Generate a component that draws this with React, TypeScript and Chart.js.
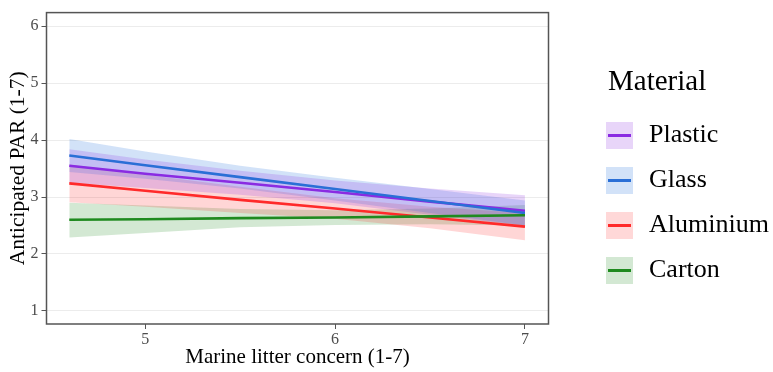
import React, { useEffect, useRef } from "react";
import { Chart, registerables } from "chart.js";

Chart.register(...registerables);

// ---- data ----
const materials = ["Plastic", "Glass", "Aluminium", "Carton"];
const concern = [4.6, 5.0, 5.5, 6.0, 6.5, 7.0];

const plasticFit = [3.55, 3.41, 3.25, 3.09, 2.92, 2.76];
const plasticLow = [3.25, 3.16, 3.04, 2.89, 2.69, 2.49];
const plasticHigh = [3.84, 3.66, 3.46, 3.29, 3.15, 3.03];

const glassFit = [3.73, 3.56, 3.35, 3.14, 2.93, 2.72];
const glassLow = [3.44, 3.32, 3.15, 2.94, 2.72, 2.5];
const glassHigh = [4.02, 3.8, 3.55, 3.34, 3.14, 2.94];

const aluminiumFit = [3.24, 3.11, 2.95, 2.8, 2.64, 2.48];
const aluminiumLow = [2.91, 2.83, 2.72, 2.62, 2.45, 2.24];
const aluminiumHigh = [3.57, 3.39, 3.18, 2.98, 2.83, 2.72];

const cartonFit = [2.6, 2.61, 2.63, 2.64, 2.66, 2.68];
const cartonLow = [2.29, 2.37, 2.47, 2.51, 2.52, 2.5];
const cartonHigh = [2.9, 2.85, 2.79, 2.77, 2.8, 2.86];

const xTicks = [5, 6, 7];
const yTicks = [1, 2, 3, 4, 5, 6];
const xTitle = "Marine litter concern (1-7)";
const yTitle = "Anticipated PAR (1-7)";
const legendTitle = "Material";

// ---- styles ----
const FONT = '"Liberation Serif", "Times New Roman", serif';
const lineColors = ["#8a2be2", "#2a6fd6", "#ff2a2a", "#1f8a1f"];
const bandColors = [
  "rgba(138,43,226,0.2)",
  "rgba(30,110,220,0.2)",
  "rgba(255,30,30,0.18)",
  "rgba(34,139,34,0.2)",
];
const legendBoxColors = ["#e8d5f9", "#d2e2f8", "#ffd8d8", "#d3e8d3"];

const series = [
  { fit: plasticFit, low: plasticLow, high: plasticHigh },
  { fit: glassFit, low: glassLow, high: glassHigh },
  { fit: aluminiumFit, low: aluminiumLow, high: aluminiumHigh },
  { fit: cartonFit, low: cartonLow, high: cartonHigh },
];

const pts = (ys: number[]) => concern.map((x, i) => ({ x, y: ys[i] }));

const panelBorder = {
  id: "panelBorder",
  afterDraw(chart: any) {
    const { ctx, chartArea: a } = chart;
    ctx.save();
    ctx.strokeStyle = "#555555";
    ctx.lineWidth = 1.5;
    ctx.strokeRect(a.left, a.top, a.right - a.left, a.bottom - a.top);
    ctx.restore();
  },
};

export default function App() {
  const ref = useRef<HTMLCanvasElement | null>(null);

  useEffect(() => {
    if (!ref.current) return;
    const datasets: any[] = [];
    series.forEach((s, i) => {
      datasets.push({
        label: materials[i] + " high",
        data: pts(s.high),
        borderWidth: 0,
        pointRadius: 0,
        fill: false,
        order: 10,
      });
      datasets.push({
        label: materials[i] + " low",
        data: pts(s.low),
        borderWidth: 0,
        pointRadius: 0,
        backgroundColor: bandColors[i],
        fill: "-1",
        order: 10,
      });
    });
    series.forEach((s, i) => {
      datasets.push({
        label: materials[i],
        data: pts(s.fit),
        borderColor: lineColors[i],
        borderWidth: 2.6,
        pointRadius: 0,
        fill: false,
        order: 4 - i,
      });
    });

    const chart = new Chart(ref.current, {
      type: "line",
      data: { datasets },
      plugins: [panelBorder],
      options: {
        animation: false,
        responsive: false,
        devicePixelRatio: 1,
        layout: { padding: { top: 10.5, right: 224.5, left: 0, bottom: 0 } },
        plugins: { legend: { display: false }, tooltip: { enabled: false } },
        scales: {
          x: {
            type: "linear",
            min: 4.48,
            max: 7.124,
            afterBuildTicks: (s: any) => {
              s.ticks = xTicks.map((v) => ({ value: v }));
            },
            afterFit: (s: any) => {
              s.height = 48;
            },
            grid: {
              drawOnChartArea: false,
              drawTicks: true,
              tickLength: 5,
              tickColor: "#555555",
              tickWidth: 1,
            },
            border: { display: false },
            ticks: {
              color: "#4d4d4d",
              font: { family: FONT, size: 16 },
              padding: 1,
              maxRotation: 0,
            },
            title: {
              display: true,
              text: xTitle,
              color: "#000",
              font: { family: FONT, size: 21, lineHeight: 1 },
              padding: { top: 0, bottom: 4 },
            },
          },
          y: {
            type: "linear",
            min: 0.77,
            max: 6.24,
            afterBuildTicks: (s: any) => {
              s.ticks = yTicks.map((v) => ({ value: v }));
            },
            afterFit: (s: any) => {
              s.width = 46.5;
            },
            grid: {
              color: "#ececec",
              lineWidth: 1,
              drawTicks: true,
              tickLength: 5,
              tickColor: "#555555",
              tickWidth: 1,
            },
            border: { display: false },
            ticks: {
              color: "#4d4d4d",
              font: { family: FONT, size: 16 },
              padding: 3,
            },
            title: {
              display: true,
              text: yTitle,
              color: "#000",
              font: { family: FONT, size: 21.5, lineHeight: 1 },
              padding: { top: 8, bottom: 0 },
            },
          },
        },
      },
    } as any);
    return () => chart.destroy();
  }, []);

  const keyTops = [122, 167, 212, 257];

  return (
    <div
      style={{
        position: "absolute",
        left: 0,
        top: 0,
        width: 773,
        height: 372,
        background: "#fff",
      }}
    >
      <canvas ref={ref} width={773} height={372} style={{ display: "block" }} />
      <div
        style={{
          position: "absolute",
          left: 608,
          top: 65.7,
          fontFamily: FONT,
          fontSize: 29,
          lineHeight: "29px",
          color: "#000",
          whiteSpace: "nowrap",
        }}
      >
        {legendTitle}
      </div>
      {materials.map((m, i) => (
        <React.Fragment key={m}>
          <div
            style={{
              position: "absolute",
              left: 606,
              top: keyTops[i],
              width: 27,
              height: 27,
              background: legendBoxColors[i],
            }}
          />
          <div
            style={{
              position: "absolute",
              left: 608,
              top: keyTops[i] + 12,
              width: 23,
              height: 3,
              background: lineColors[i],
            }}
          />
          <div
            style={{
              position: "absolute",
              left: 649,
              top: keyTops[i] - 0.8,
              fontFamily: FONT,
              fontSize: 26,
              lineHeight: "26px",
              color: "#000",
              whiteSpace: "nowrap",
            }}
          >
            {m}
          </div>
        </React.Fragment>
      ))}
    </div>
  );
}
